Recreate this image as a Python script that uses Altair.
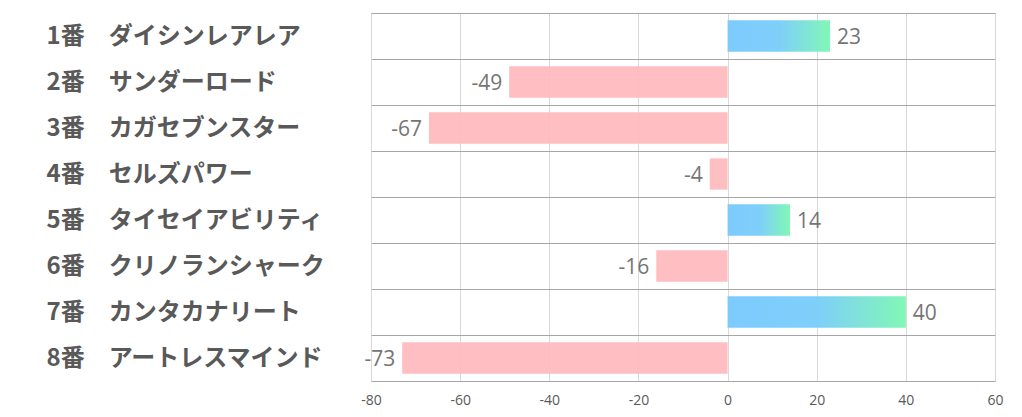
import altair as alt
import pandas as pd

labels = ["1番　ダイシンレアレア", "2番　サンダーロード", "3番　カガセブンスター", "4番　セルズパワー",
          "5番　タイセイアビリティ", "6番　クリノランシャーク", "7番　カンタカナリート", "8番　アートレスマインド"]
values = [23, -49, -67, -4, 14, -16, 40, -73]
x_ticks = [-80, -60, -40, -20, 0, 20, 40, 60]

df = pd.DataFrame({"label": labels, "value": values})

y_enc = alt.Y("label:N", sort=labels, title=None,
              scale=alt.Scale(paddingInner=0, paddingOuter=0),
              axis=alt.Axis(labelAlign="left", labelPadding=325, tickSize=0, ticks=False,
                            domain=False, grid=True, tickBand="extent",
                            gridColor="#A6A6A6", gridWidth=1,
                            labelFont="Noto Sans CJK JP", labelFontWeight="bold",
                            labelFontSize=24, labelColor="#595959", labelLimit=400))
x_enc = alt.X("value:Q", title=None,
              scale=alt.Scale(domain=[-80, 60], nice=False, zero=False),
              axis=alt.Axis(values=x_ticks, grid=True, gridColor="#D9D9D9", domain=False,
                            ticks=False, tickSize=0, labelPadding=12, labelFontSize=14,
                            labelFlush=False,
                            labelExpr="replace(datum.label, '\u2212', '-')",
                            labelColor="#595959", labelFont="Open Sans"))

base = alt.Chart(df).encode(y=y_enc)

grad = alt.Gradient(gradient="linear", x1=0, x2=1, y1=0, y2=0,
                    stops=[alt.GradientStop(offset=0, color="#77C8FE"),
                           alt.GradientStop(offset=0.5, color="#78CCFA"),
                           alt.GradientStop(offset=1, color="#7AF7B2")])

bar_h = {"band": 0.68}

pos_bar = base.transform_filter("datum.value >= 0").mark_bar(
    fill=grad, opacity=0.95, height=bar_h).encode(x=x_enc, x2=alt.datum(0))
neg_bar = base.transform_filter("datum.value < 0").mark_bar(
    color="#FFBBBE", opacity=0.95, height=bar_h).encode(x=x_enc, x2=alt.datum(0))

pos_txt = base.transform_filter("datum.value >= 0").transform_calculate(
    lab="'' + datum.value").mark_text(
    align="left", dx=7, dy=2, fontSize=21, color="#757575", font="Open Sans").encode(
    x="value:Q", text="lab:N")
neg_txt = base.transform_filter("datum.value < 0").transform_calculate(
    lab="'' + datum.value").mark_text(
    align="right", dx=-7, dy=2, fontSize=21, color="#757575", font="Open Sans").encode(
    x="value:Q", text="lab:N")

chart = alt.layer(pos_bar, neg_bar, pos_txt, neg_txt).properties(
    width=624, height=368,
    autosize=alt.AutoSizeParams(type="none"),
    padding={"left": 363, "top": 5, "right": 15, "bottom": 28}
).configure_view(stroke=None)

chart.save("out.html", embed_options={"renderer": "svg", "actions": False})
